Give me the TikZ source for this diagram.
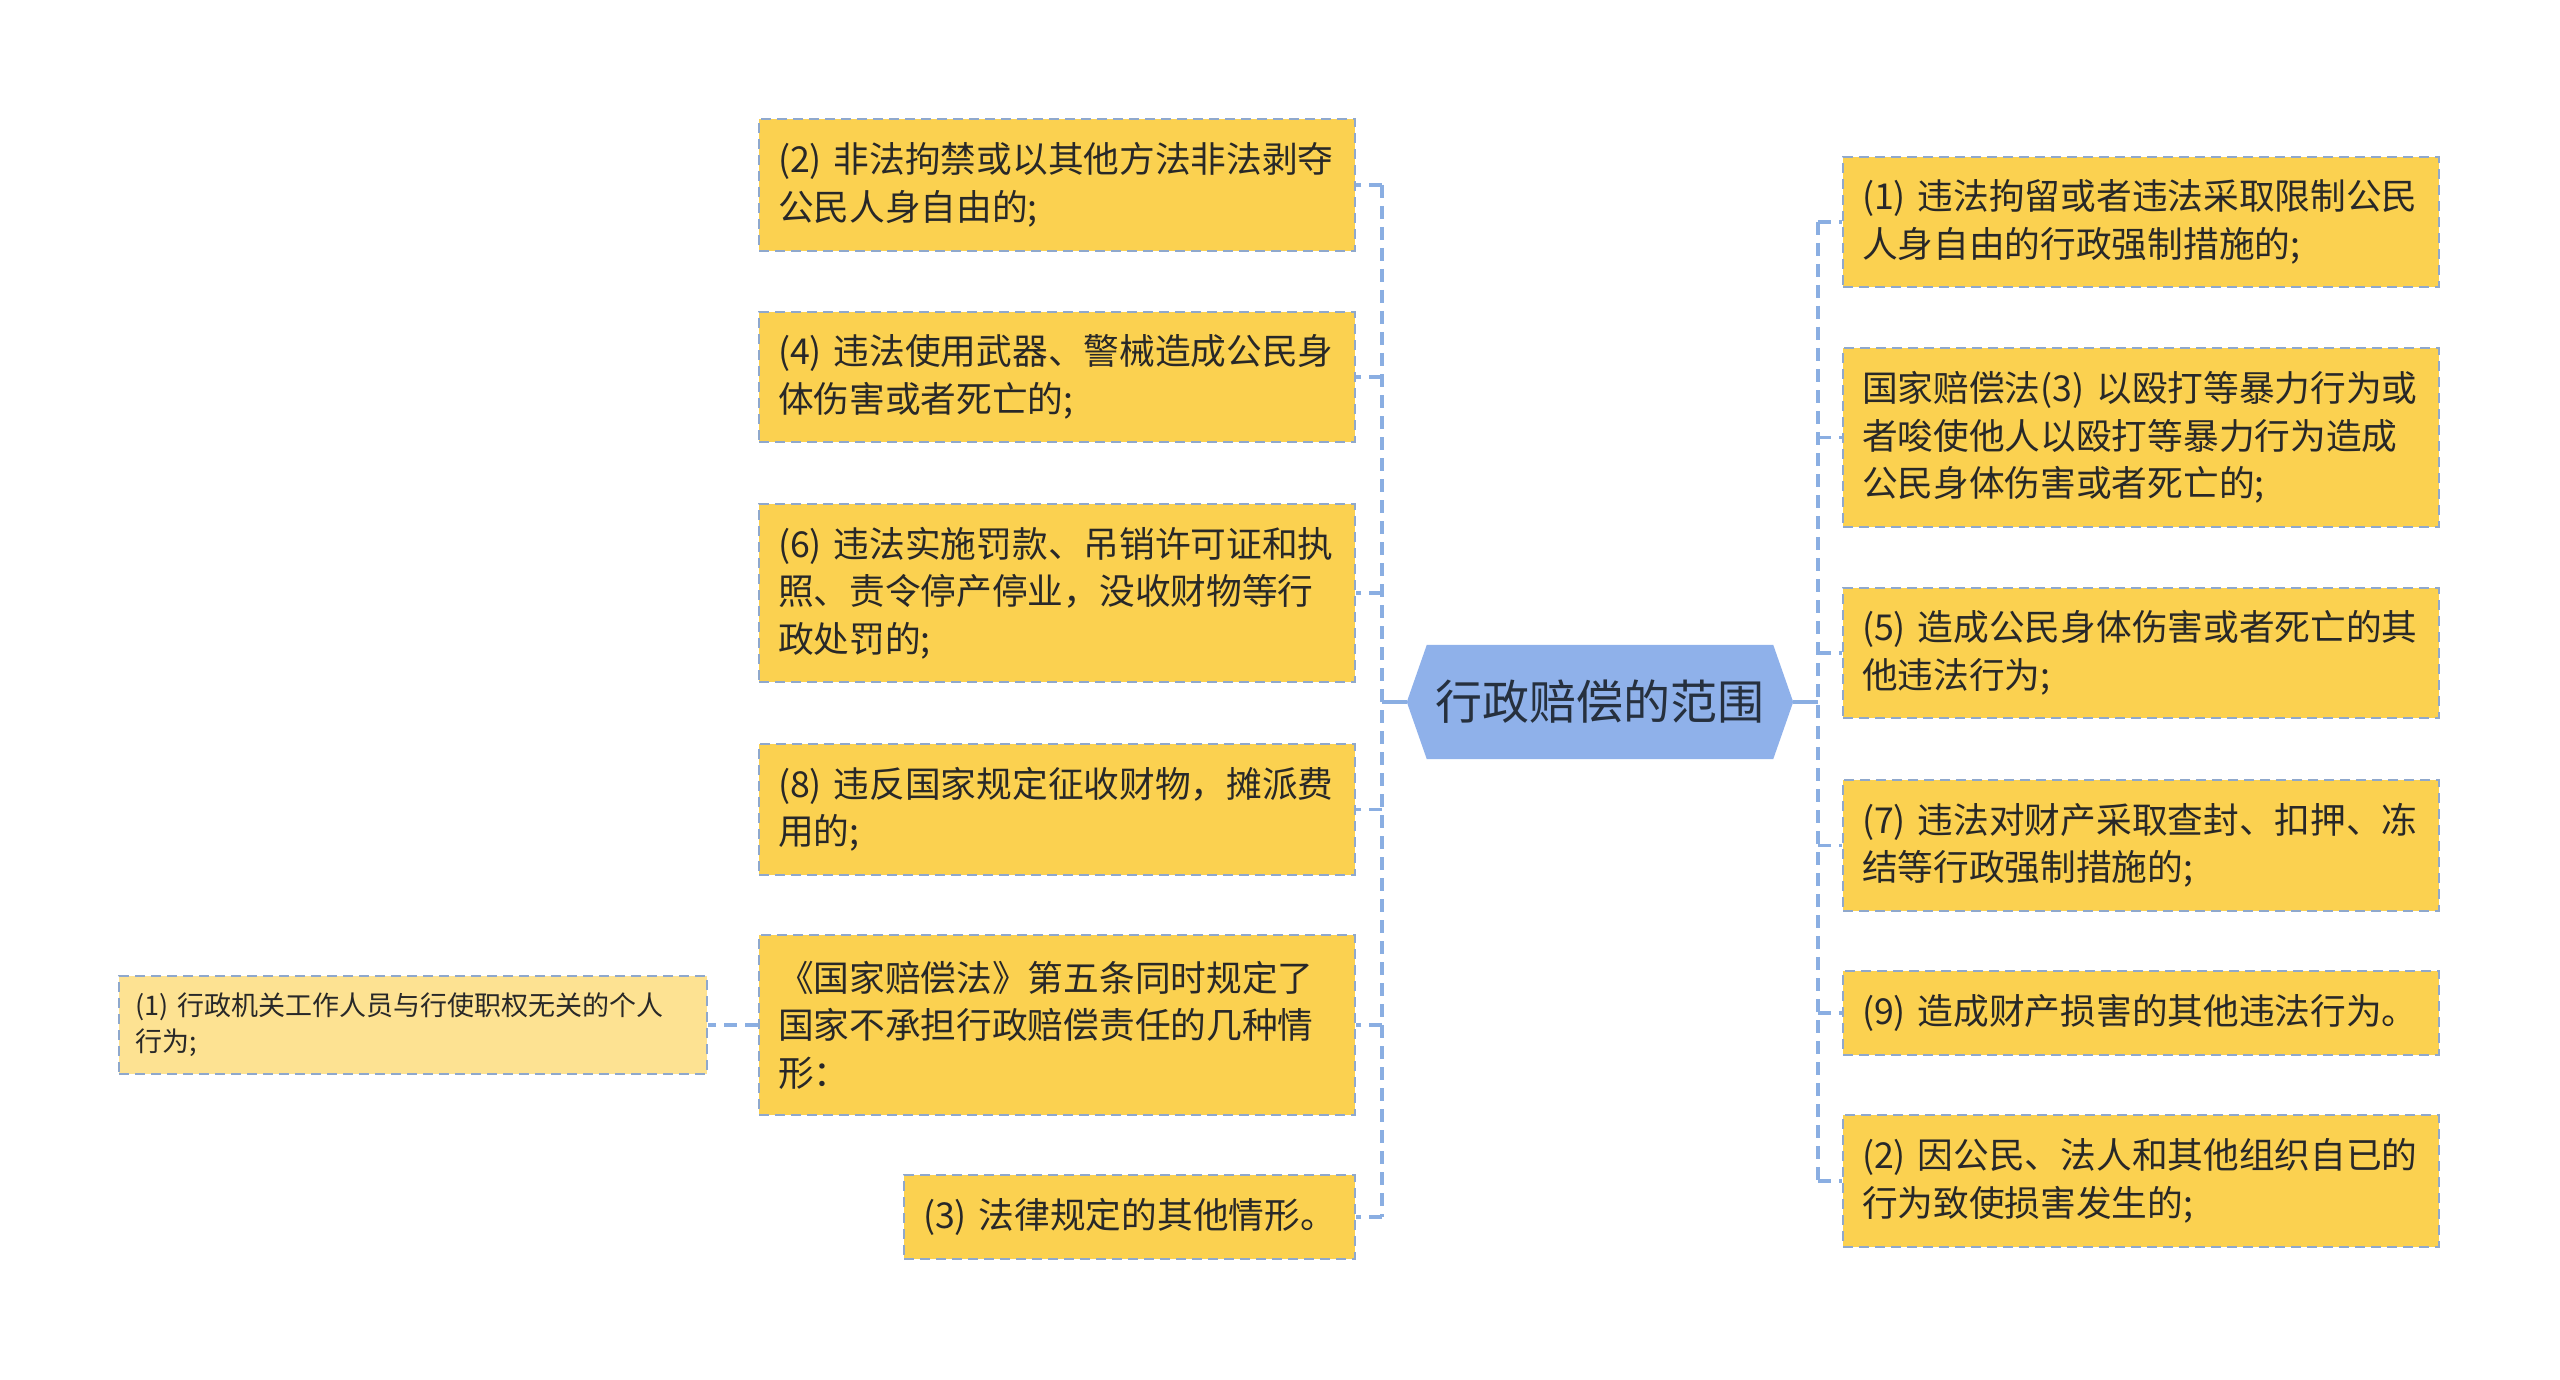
\documentclass[tikz,border=0pt]{standalone}
\usepackage{fontspec}
\setmainfont{Noto Sans CJK SC}
\usetikzlibrary{backgrounds}
\definecolor{boxfill}{RGB}{251,209,80}
\definecolor{lightfill}{RGB}{253,226,146}
\definecolor{boxline}{RGB}{143,168,204}
\definecolor{busline}{RGB}{138,174,226}
\definecolor{hexfill}{RGB}{143,177,234}
\definecolor{txt}{RGB}{40,40,40}
\definecolor{roottxt}{RGB}{38,48,62}
\begin{document}
\begin{tikzpicture}[x=1pt,y=-1pt,
  leaf/.style={draw=boxline, line width=2.4pt, dash pattern=on 10pt off 6pt,
    fill=boxfill, text=txt, inner xsep=19pt, inner ysep=0pt, align=left,
    text width=558pt, font=\fontsize{35.7}{47.5}\selectfont},
  subleaf/.style={leaf, fill=lightfill, inner xsep=16pt, text width=556pt,
    font=\fontsize{27}{36}\selectfont},
  conn/.style={draw=busline, line width=3.2pt, dash pattern=on 13pt off 8pt},
  hub/.style={draw=busline, line width=3.2pt}
]
\useasboundingbox (0,0) rectangle (2560,1380);

% root
\node[text=roottxt, font=\fontsize{47}{56}\selectfont, minimum width=386pt,
  minimum height=114pt, inner sep=0pt] (root) at (1600,702) {行政赔偿的范围};
\begin{scope}[on background layer]
\fill[white] (0,0) rectangle (2560,1380);
\fill[hexfill] (root.west) -- ([xshift=20pt]root.north west) -- ([xshift=-20pt]root.north east)
  -- (root.east) -- ([xshift=-20pt]root.south east) -- ([xshift=20pt]root.south west) -- cycle;
\end{scope}

% left children
\node[leaf, minimum height=132pt] (L1) at (1057,185) {(2) 非法拘禁或以其他方法非法剥夺\\公民人身自由的;};
\node[leaf, minimum height=130pt] (L2) at (1057,377) {(4) 违法使用武器、警械造成公民身\\体伤害或者死亡的;};
\node[leaf, minimum height=178pt] (L3) at (1057,593) {(6) 违法实施罚款、吊销许可证和执\\照、责令停产停业，没收财物等行\\政处罚的;};
\node[leaf, minimum height=131pt] (L4) at (1057,809.5) {(8) 违反国家规定征收财物，摊派费\\用的;};
\node[leaf, minimum height=180pt] (L5) at (1057,1025) {《国家赔偿法》第五条同时规定了\\国家不承担行政赔偿责任的几种情\\形：};
\node[leaf, minimum height=84pt, text width=413pt] (L6) at (1129.5,1217) {(3) 法律规定的其他情形。};
\node[subleaf, minimum height=98pt] (S1) at (413,1025) {(1) 行政机关工作人员与行使职权无关的个人\\行为;};

% right children
\node[leaf, minimum height=130pt] (R1) at (2141,222) {(1) 违法拘留或者违法采取限制公民\\人身自由的行政强制措施的;};
\node[leaf, minimum height=179pt] (R2) at (2141,437.5) {国家赔偿法(3) 以殴打等暴力行为或\\者唆使他人以殴打等暴力行为造成\\公民身体伤害或者死亡的;};
\node[leaf, minimum height=130pt] (R3) at (2141,653) {(5) 造成公民身体伤害或者死亡的其\\他违法行为;};
\node[leaf, minimum height=131pt] (R4) at (2141,845.5) {(7) 违法对财产采取查封、扣押、冻\\结等行政强制措施的;};
\node[leaf, minimum height=84pt] (R5) at (2141,1013) {(9) 造成财产损害的其他违法行为。};
\node[leaf, minimum height=132pt] (R6) at (2141,1181) {(2) 因公民、法人和其他组织自已的\\行为致使损害发生的;};

% buses
\coordinate (busL) at (1382,702);
\coordinate (busR) at (1818,702);
\draw[hub] (root.west) -- (busL);
\draw[hub] (root.east) -- (busR);
\draw[conn] (busL |- L1.east) -- (busL |- L6.east);
\draw[conn] (busR |- R1.west) -- (busR |- R6.west);
\foreach \n in {L1,L2,L3,L4,L5,L6} {\draw[conn] (busL |- \n.east) -- (\n.east);}
\foreach \n in {R1,R2,R3,R4,R5,R6} {\draw[conn] (busR |- \n.west) -- (\n.west);}
\draw[conn] (L5.west) -- (S1.east);
\end{tikzpicture}
\end{document}
